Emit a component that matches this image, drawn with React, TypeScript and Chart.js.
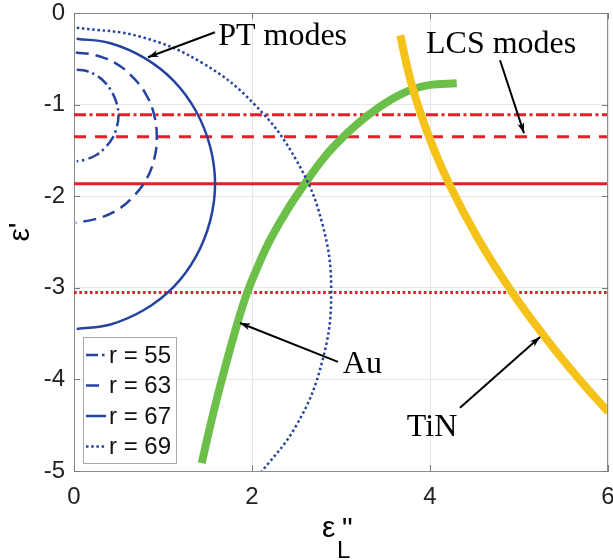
import React, { useEffect, useRef } from "react";
import { Chart, registerables } from "chart.js";

Chart.register(...registerables);

// ---- axes ----
const X_MIN = 0;
const X_MAX = 6;
const Y_MIN = -5;
const Y_MAX = 0;
const xTickValues = [0, 2, 4, 6];
const yTickValues = [0, -1, -2, -3, -4, -5];

// ---- PT modes (blue arcs) ----
const r55X = [0.03, 0.13, 0.25, 0.35, 0.43, 0.48, 0.5, 0.48, 0.43, 0.35, 0.25, 0.13, 0.03];
const r55Y = [-0.62, -0.63, -0.68, -0.76, -0.87, -0.99, -1.12, -1.25, -1.37, -1.47, -1.55, -1.6, -1.62];

const r63X = [0.02, 0.24, 0.47, 0.66, 0.81, 0.9, 0.93, 0.9, 0.81, 0.66, 0.47, 0.24, 0.02];
const r63Y = [-0.43, -0.46, -0.55, -0.7, -0.89, -1.11, -1.36, -1.6, -1.82, -2.01, -2.16, -2.25, -2.29];

const r67X = [0.03, 0.41, 0.79, 1.12, 1.37, 1.53, 1.585, 1.53, 1.37, 1.12, 0.79, 0.41, 0.03];
const r67Y = [-0.28, -0.33, -0.49, -0.74, -1.07, -1.46, -1.865, -2.27, -2.66, -2.99, -3.24, -3.4, -3.45];

const r69X = [0.03, 0.75, 1.45, 2.04, 2.5, 2.79, 2.89, 2.79, 2.5, 2.04];
const r69Y = [-0.16, -0.26, -0.55, -1.01, -1.61, -2.3, -3.05, -3.8, -4.5, -5.09];

// ---- material curves ----
const auX = [1.435, 1.544, 1.663, 1.837, 1.944, 2.067, 2.202, 2.388, 2.596, 2.82, 3.026, 3.18, 3.326, 3.551, 3.775, 4.0, 4.3];
const auY = [-4.914, -4.453, -3.995, -3.384, -3.057, -2.762, -2.479, -2.162, -1.86, -1.566, -1.352, -1.215, -1.101, -0.953, -0.844, -0.785, -0.768];

const tinX = [3.666, 3.781, 3.961, 4.211, 4.549, 4.92, 5.315, 5.682, 6.002];
const tinY = [-0.243, -0.734, -1.279, -1.857, -2.479, -3.046, -3.569, -4.005, -4.354];

// ---- LCS modes (red horizontal lines) ----
const lcsLevels = [-1.11, -1.35, -1.865, -3.05];

// ---- legend ----
const legendLabels = ["r = 55", "r = 63", "r = 67", "r = 69"];

// ---- annotations (data coordinates) ----
const noteTexts = ["PT modes", "LCS modes", "Au", "TiN"];
const noteX = [1.62, 3.955, 3.02, 3.74];
const noteY = [-0.254, -0.341, -3.84, -4.53];
const arrowFromX = [1.584, 4.787, 2.966, 4.337];
const arrowFromY = [-0.21, -0.516, -3.809, -4.31];
const arrowToX = [0.831, 5.056, 1.865, 5.236];
const arrowToY = [-0.483, -1.312, -3.384, -3.536];

const BLUE = "#2543a0";
const RED = "#e51f27";
const GREEN = "#6cc04a";
const YELLOW = "#f5c21a";

const blueDashes = [[12, 4, 2.5, 4], [13, 7], [], [2.5, 2.7]];
const redDashes = [[12, 3.5, 3, 3.5], [12, 9], [], [2.7, 2.6]];

const mk = (xs: number[], ys: number[]) => xs.map((x, i) => ({ x, y: ys[i] }));

const overlayPlugin = {
  id: "overlay",
  afterDraw(chart: any) {
    const { ctx, chartArea: ca, scales } = chart;
    const sx = scales.x;
    const sy = scales.y;
    ctx.save();
    // box top/right
    ctx.strokeStyle = "#8c8c8c";
    ctx.lineWidth = 1;
    ctx.setLineDash([]);
    ctx.beginPath();
    ctx.moveTo(ca.left, ca.top + 0.5);
    ctx.lineTo(ca.right, ca.top + 0.5);
    ctx.moveTo(ca.right - 0.5, ca.top);
    ctx.lineTo(ca.right - 0.5, ca.bottom);
    ctx.stroke();
    // inner ticks
    ctx.strokeStyle = "#7a7a7a";
    ctx.beginPath();
    xTickValues.forEach((v) => {
      const px = Math.round(sx.getPixelForValue(v)) + 0.5;
      ctx.moveTo(px, ca.bottom);
      ctx.lineTo(px, ca.bottom - 6);
      ctx.moveTo(px, ca.top);
      ctx.lineTo(px, ca.top + 6);
    });
    yTickValues.forEach((v) => {
      const py = Math.round(sy.getPixelForValue(v)) + 0.5;
      ctx.moveTo(ca.left, py);
      ctx.lineTo(ca.left + 6, py);
      ctx.moveTo(ca.right, py);
      ctx.lineTo(ca.right - 6, py);
    });
    ctx.stroke();

    // legend
    const lx = ca.left + 9;
    const ly = ca.bottom - 134;
    const lw = 93;
    const lh = 126;
    ctx.fillStyle = "#ffffff";
    ctx.fillRect(lx, ly, lw, lh);
    ctx.strokeStyle = "#a8a8a8";
    ctx.lineWidth = 1;
    ctx.strokeRect(lx + 0.5, ly + 0.5, lw, lh);
    ctx.font = "24px 'Liberation Sans', Arial, sans-serif";
    ctx.textBaseline = "middle";
    ctx.textAlign = "left";
    legendLabels.forEach((lab, i) => {
      const yy = ly + 18 + i * 30.5;
      ctx.strokeStyle = BLUE;
      ctx.lineWidth = 2.5;
      ctx.setLineDash(blueDashes[i]);
      ctx.beginPath();
      ctx.moveTo(lx + 3, yy);
      ctx.lineTo(lx + 23, yy);
      ctx.stroke();
      ctx.setLineDash([]);
      ctx.fillStyle = "#111";
      ctx.fillText(lab, lx + 26, yy + 1);
    });

    // annotations
    ctx.fillStyle = "#000";
    ctx.strokeStyle = "#000";
    ctx.lineWidth = 2;
    ctx.font = "32px 'Liberation Serif', 'Times New Roman', serif";
    ctx.textBaseline = "middle";
    noteTexts.forEach((t, i) => {
      ctx.fillText(t, sx.getPixelForValue(noteX[i]), sy.getPixelForValue(noteY[i]));
      const x1 = sx.getPixelForValue(arrowFromX[i]);
      const y1 = sy.getPixelForValue(arrowFromY[i]);
      const x2 = sx.getPixelForValue(arrowToX[i]);
      const y2 = sy.getPixelForValue(arrowToY[i]);
      const a = Math.atan2(y2 - y1, x2 - x1);
      ctx.beginPath();
      ctx.moveTo(x1, y1);
      ctx.lineTo(x2, y2);
      ctx.stroke();
      const hl = 11;
      const ha = 0.32;
      ctx.beginPath();
      ctx.moveTo(x2, y2);
      ctx.lineTo(x2 - hl * Math.cos(a - ha), y2 - hl * Math.sin(a - ha));
      ctx.lineTo(x2 - hl * 0.7 * Math.cos(a), y2 - hl * 0.7 * Math.sin(a));
      ctx.lineTo(x2 - hl * Math.cos(a + ha), y2 - hl * Math.sin(a + ha));
      ctx.closePath();
      ctx.fill();
    });

    // axis titles
    ctx.fillStyle = "#000";
    ctx.textAlign = "left";
    ctx.textBaseline = "alphabetic";
    const cx = (ca.left + ca.right) / 2;
    ctx.font = "30px 'Liberation Sans', Arial, sans-serif";
    ctx.fillText("\u03b5", cx - 19, 537);
    ctx.font = "24px 'Liberation Sans', Arial, sans-serif";
    ctx.fillText("L", cx - 4, 558);
    ctx.font = "30px 'Liberation Sans', Arial, sans-serif";
    ctx.fillText('"', cx + 1, 538);

    ctx.save();
    ctx.translate(29, (ca.top + ca.bottom) / 2 - 10);
    ctx.rotate(-Math.PI / 2);
    ctx.textAlign = "center";
    ctx.font = "30px 'Liberation Sans', Arial, sans-serif";
    ctx.fillText("\u03b5'", 0, 0);
    ctx.restore();

    ctx.restore();
  },
};

export default function App() {
  const ref = useRef<HTMLCanvasElement>(null);
  useEffect(() => {
    const canvas = ref.current;
    if (!canvas) return;
    const blueSets = [
      [r55X, r55Y],
      [r63X, r63Y],
      [r67X, r67Y],
      [r69X, r69Y],
    ].map(([xs, ys], i) => ({
      label: legendLabels[i],
      data: mk(xs, ys),
      borderColor: BLUE,
      borderWidth: 2.5,
      borderDash: blueDashes[i],
      tension: 0.4,
      showLine: true,
      pointRadius: 0,
      fill: false,
    }));
    const redSets = lcsLevels.map((lv, i) => ({
      label: "LCS " + i,
      data: [
        { x: X_MIN, y: lv },
        { x: X_MAX, y: lv },
      ],
      borderColor: RED,
      borderWidth: 3,
      borderDash: redDashes[i],
      showLine: true,
      pointRadius: 0,
      fill: false,
    }));
    const chart = new Chart(canvas, {
      type: "scatter",
      data: {
        datasets: [
          ...blueSets,
          {
            label: "TiN",
            data: mk(tinX, tinY),
            borderColor: YELLOW,
            borderWidth: 8,
            tension: 0.4,
            showLine: true,
            pointRadius: 0,
          },
          {
            label: "Au",
            data: mk(auX, auY),
            borderColor: GREEN,
            borderWidth: 8,
            tension: 0.4,
            showLine: true,
            pointRadius: 0,
          },
          ...redSets,
        ] as any,
      },
      options: {
        responsive: false,
        animation: false,
        layout: { padding: { top: 13, right: 5, left: 0, bottom: 0 } },
        plugins: { legend: { display: false }, tooltip: { enabled: false } },
        scales: {
          x: {
            type: "linear",
            min: X_MIN,
            max: X_MAX,
            ticks: {
              stepSize: 2,
              padding: 14,
              maxRotation: 0,
              color: "#222",
              font: { family: "'Liberation Sans', Arial, sans-serif", size: 24, lineHeight: 1 },
            },
            grid: { color: "#e6e6e6", drawTicks: false, lineWidth: 1 },
            border: { display: true, color: "#8c8c8c" },
            afterFit: (s: any) => {
              s.height = 89;
              s.paddingLeft = 0;
              s.paddingRight = 0;
            },
          },
          y: {
            type: "linear",
            min: Y_MIN,
            max: Y_MAX,
            ticks: {
              stepSize: 1,
              padding: 9,
              color: "#222",
              font: { family: "'Liberation Sans', Arial, sans-serif", size: 24, lineHeight: 1 },
            },
            grid: { color: "#e6e6e6", drawTicks: false, lineWidth: 1 },
            border: { display: true, color: "#8c8c8c" },
            afterFit: (s: any) => {
              s.width = 74;
              s.paddingTop = 0;
              s.paddingBottom = 0;
            },
          },
        },
      } as any,
      plugins: [overlayPlugin],
    });
    return () => chart.destroy();
  }, []);
  return (
    <div style={{ position: "fixed", left: 0, top: 0, width: 613, height: 560, background: "#fff" }}>
      <canvas ref={ref} width={613} height={560} style={{ display: "block", width: 613, height: 560 }} />
    </div>
  );
}
